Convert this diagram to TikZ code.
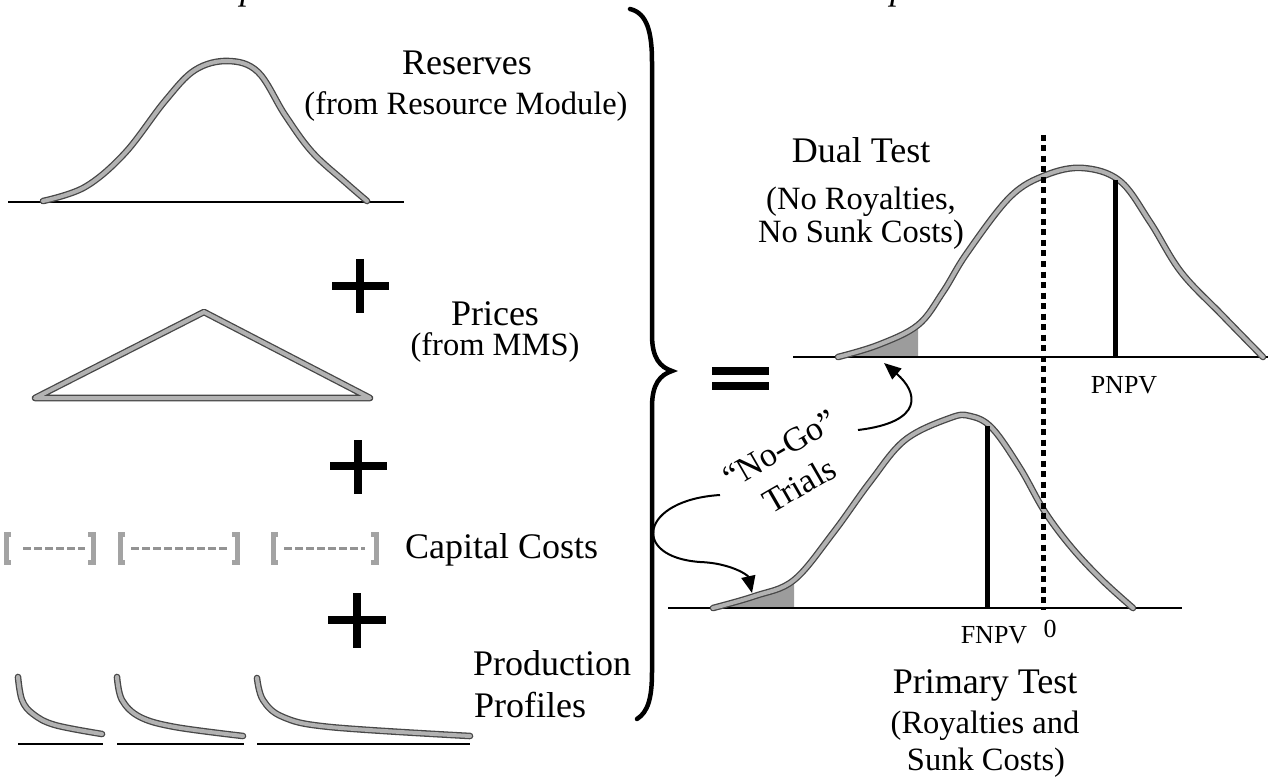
\documentclass[tikz,border=0pt]{standalone}
\usepackage{fontspec}
\setmainfont{Liberation Serif}
\usetikzlibrary{arrows.meta}
\begin{document}
\begin{tikzpicture}[x=1pt,y=-1pt,
  curve/.style={draw=black!72, line width=1.3pt, double=gray!60, double distance=4pt, line cap=round, line join=round},
  axisline/.style={black, line width=1.8pt},
  ttl/.style={font=\fontsize{36}{40}\selectfont, inner sep=0pt, anchor=base},
  sub/.style={font=\fontsize{32.5}{37}\selectfont, inner sep=0pt, anchor=base},
  lab/.style={font=\fontsize{26}{30}\selectfont, inner sep=0pt, anchor=base},
  hdr/.style={font=\itshape\fontsize{36}{40}\selectfont, inner sep=0pt, anchor=base west},
  nogotext/.style={font=\fontsize{34}{40}\selectfont, inner sep=0pt, rotate=30},
  plussign/.style={black, line width=8pt},
  vbar/.style={black, line width=5pt},
  shadefill/.style={fill=gray!78},
  pointer/.style={black, line width=2pt, -{Triangle[length=17pt,width=14pt]}},
  bracket/.style={draw=gray!72, line width=5pt},
  dashline/.style={draw=gray!85, line width=3pt, dash pattern=on 8pt off 3pt},
  bracestyle/.style={black, line width=4.5pt, line cap=round}
]
\useasboundingbox (0,0) rectangle (1280,778);
\clip (0,0) rectangle (1280,778);

% cut-off headings at the top edge
\node[hdr] (hin) at (210,0) {Inputs};
\node[hdr] (hout) at (836,0) {Output Distributions};

% ---------------- left column ----------------
% Reserves bell
\draw[axisline] (8,202) -- (404,202);
\draw[curve] plot[smooth, tension=0.6] coordinates {(43,201) (85,187) (125,153) (165,101) (195,70) (228,61) (258,72) (285,115) (312,152) (345,182) (367,201)};
\node[ttl] (res) at (467,75) {Reserves};
\node[sub] (resf) at (466,115) {(from Resource Module)};

% plus 1
\draw[plussign] (332,286) -- (389,286);
\draw[plussign] (360,259) -- (360,313);

% Prices triangle
\draw[curve] (35,398) -- (204,312) -- (370,398) -- cycle;
\node[ttl] (pri) at (495,325) {Prices};
\node[sub] (prif) at (495,355) {(from MMS)};

% plus 2
\draw[plussign] (330,466) -- (387,466);
\draw[plussign] (358,440) -- (358,494);

% Capital cost brackets
\draw[bracket] (11,534) -- (6,534) -- (6,562) -- (11,562);
\draw[bracket] (88,534) -- (93,534) -- (93,562) -- (88,562);
\draw[dashline] (23,548) -- (85,548);
\draw[bracket] (125,534) -- (120,534) -- (120,562) -- (125,562);
\draw[bracket] (232,534) -- (237,534) -- (237,562) -- (232,562);
\draw[dashline] (131,548) -- (227,548);
\draw[bracket] (278,534) -- (273,534) -- (273,562) -- (278,562);
\draw[bracket] (371,534) -- (376,534) -- (376,562) -- (371,562);
\draw[dashline] (284,548) -- (365,548);
\node[ttl, anchor=base west] (cap) at (405,558) {Capital Costs};

% plus 3
\draw[plussign] (328,620) -- (386,620);
\draw[plussign] (357,593) -- (357,648);

% production profiles
\draw[axisline] (18,744) -- (103,744);
\draw[axisline] (117,744) -- (244,744);
\draw[axisline] (257,744) -- (470,744);
\draw[curve] plot[smooth, tension=0.6] coordinates {(18,677) (22,700) (33,714) (55,725) (102,734)};
\draw[curve] plot[smooth, tension=0.6] coordinates {(117,677) (122,700) (140,717) (175,727) (243,736)};
\draw[curve] plot[smooth, tension=0.6] coordinates {(257,678) (263,700) (283,717) (330,727) (470,736)};
\node[ttl, anchor=base west] (prod) at (473,675) {Production};
\node[ttl, anchor=base west] (prof) at (474,717) {Profiles};

% ---------------- brace and equals ----------------
\draw[bracestyle] (630,9) .. controls (647,13) and (652,32) .. (652,62) -- (652,335)
  .. controls (652,358) and (660,367) .. (672,371)
  .. controls (660,375) and (652,384) .. (652,407) -- (652,672)
  .. controls (652,698) and (648,712) .. (637,719);
\fill (712,367) rectangle (769,375);
\fill (712,382) rectangle (769,390);

% ---------------- dual test (upper) ----------------
\def\upperpts{(838,357) (878,345) (918,325) (943,292) (967,253) (1010,197) (1046,175) (1083,168) (1120,181) (1150,222) (1181,272) (1222,315) (1263,357)}
\begin{scope}
  \clip (830,300) rectangle (918,358);
  \fill[shadefill] plot[smooth, tension=0.6] coordinates {\upperpts} -- cycle;
\end{scope}
\draw[axisline] (793,357) -- (1268,357);
\draw[curve] plot[smooth, tension=0.6] coordinates {\upperpts};
\draw[vbar] (1115,180) -- (1115,357);
\node[ttl] (dual) at (861,163) {Dual Test};
\node[sub] (dual1) at (861,210) {(No Royalties,};
\node[sub] (dual2) at (861,243) {No Sunk Costs)};
\node[lab] (pnpv) at (1124,393) {PNPV};

% ---------------- primary test (lower) ----------------
\def\lowerpts{(713,608) (755,596) (794,580) (833,533) (870,482) (905,440) (950,418) (970,416) (992,428) (1020,468) (1045,512) (1072,548) (1102,580) (1133,608)}
\begin{scope}
  \clip (700,540) rectangle (794,609);
  \fill[shadefill] plot[smooth, tension=0.6] coordinates {\lowerpts} -- cycle;
\end{scope}
\draw[axisline] (668,608) -- (1182,608);
\draw[curve] plot[smooth, tension=0.6] coordinates {\lowerpts};
\draw[vbar] (987,426) -- (987,608);
\node[lab] (fnpv) at (994,643) {FNPV};
\node[lab] (zero) at (1050,637) {0};
\node[ttl] (prim) at (985,693) {Primary Test};
\node[sub] (prim1) at (985,733) {(Royalties and};
\node[sub] (prim2) at (986,770) {Sunk Costs)};

% zero line (dotted)
\draw[black, line width=5pt, dash pattern=on 6pt off 4.5pt] (1043,135) -- (1043,610);

% ---------------- No-Go trials ----------------
\node[nogotext] (nogo1) at (780,449) {``No-Go''};
\node[nogotext] (nogo2) at (799,485) {Trials};
\coordinate (upstart) at (858,430);
\coordinate (uptip) at (884,363);
\coordinate (lostart) at (720,495);
\coordinate (lomid) at (700,562);
\coordinate (lotip) at (752,593);
\draw[pointer] (upstart) .. controls (925,422) and (918,392) .. (uptip);
\draw[pointer] (lostart) .. controls (640,500) and (630,557) .. (lomid) .. controls (730,563) and (748,575) .. (lotip);
\end{tikzpicture}
\end{document}
